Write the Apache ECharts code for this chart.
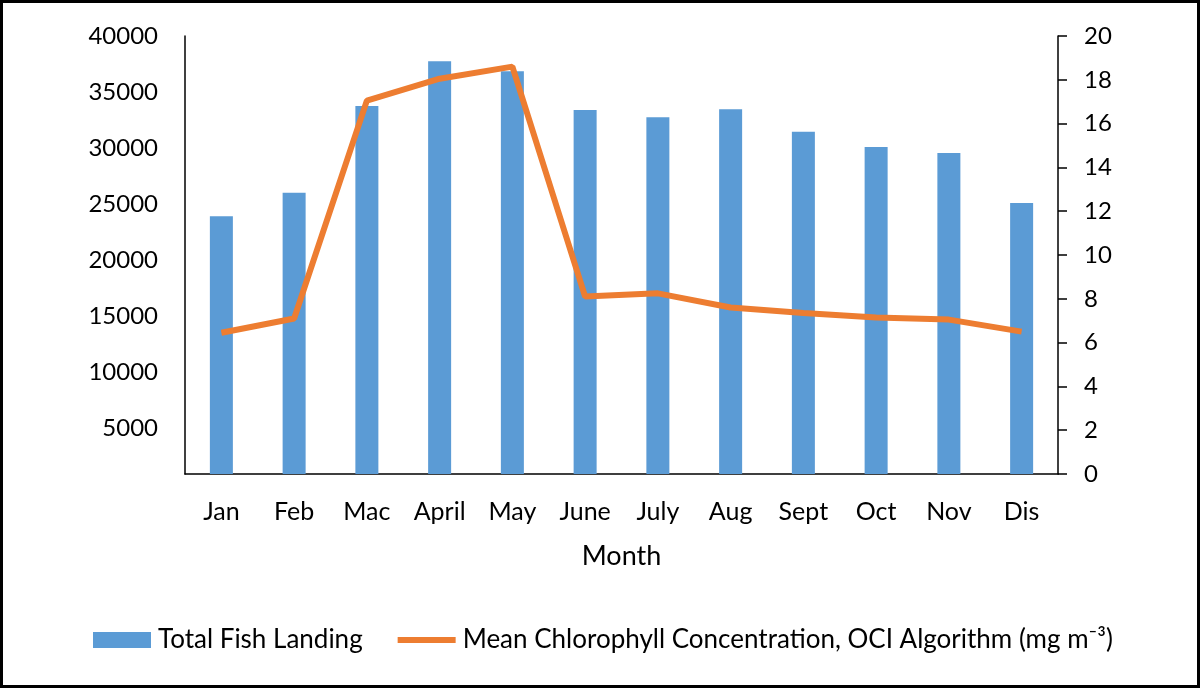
<!DOCTYPE html>
<html>
<head>
<meta charset="utf-8">
<script src="https://cdn.jsdelivr.net/npm/echarts@6/dist/echarts.min.js"></script>
<style>
  html, body { margin: 0; padding: 0; background: #fff; }
  #chart { width: 1200px; height: 688px; }
</style>
</head>
<body>
<div id="chart"></div>
<script>
// data
const months = ['Jan', 'Feb', 'Mac', 'April', 'May', 'June', 'July', 'Aug', 'Sept', 'Oct', 'Nov', 'Dis'];
const fishLanding = [23900, 26000, 33750, 37750, 36850, 33400, 32750, 33450, 31450, 30100, 29550, 25100];
const chlorophyll = [6.45, 7.1, 17.05, 18.05, 18.6, 8.1, 8.25, 7.6, 7.35, 7.15, 7.05, 6.5];
const leftTicks = [5000, 10000, 15000, 20000, 25000, 30000, 35000, 40000];

const barName = 'Total Fish Landing';
const lineName = 'Mean Chlorophyll Concentration, OCI Algorithm (mg m\u207B\u00B3)';

const font = 'Lato, "Open Sans", sans-serif';
const chart = echarts.init(document.getElementById('chart'));

chart.setOption({
    backgroundColor: '#fff',
    animation: false,
    textStyle: { fontFamily: font, color: '#000' },
    graphic: [{
        type: 'rect',
        shape: { x: 1.5, y: 1.5, width: 1197, height: 685 },
        style: { fill: 'none', stroke: '#000', lineWidth: 3 }
    }],
    grid: { left: 185, right: 142, top: 36, bottom: 214 },
    legend: {
        left: 93,
        top: 627,
        padding: 0,
        itemWidth: 58,
        itemHeight: 16,
        itemGap: 32,
        textStyle: { fontFamily: font, fontSize: 26, color: '#000', padding: [0, 0, 0, 2] },
        data: [
            { name: barName, icon: 'rect' },
            { name: lineName, itemStyle: { opacity: 0 }, lineStyle: { width: 6, color: '#ED7D31' } }
        ]
    },
    xAxis: {
        type: 'category',
        data: months,
        name: 'Month',
        nameLocation: 'middle',
        nameGap: 69,
        nameTextStyle: { fontFamily: font, fontSize: 27, color: '#000' },
        axisLine: { lineStyle: { color: '#000', width: 1.5 } },
        axisTick: { show: false },
        axisLabel: { fontFamily: font, fontSize: 25, color: '#000', margin: 25 }
    },
    yAxis: [{
        type: 'value',
        min: 900,
        max: 40000,
        position: 'left',
        splitLine: { show: false },
        axisLine: { show: true, lineStyle: { color: '#000', width: 1.5 } },
        axisTick: { show: false },
        axisLabel: {
            fontFamily: font, fontSize: 24, color: '#000', margin: 27,
            customValues: leftTicks,
            formatter: function (v) { return String(v); }
        }
    }, {
        type: 'value',
        min: 0,
        max: 20,
        interval: 2,
        position: 'right',
        splitLine: { show: false },
        axisLine: { show: true, lineStyle: { color: '#000', width: 1.5 } },
        axisTick: { show: true, inside: false, length: 9, lineStyle: { color: '#000', width: 1.5 } },
        axisLabel: { fontFamily: font, fontSize: 24, color: '#000', margin: 26 }
    }],
    series: [{
        name: barName,
        type: 'bar',
        data: fishLanding,
        barWidth: 23,
        itemStyle: { color: '#5B9BD5' }
    }, {
        name: lineName,
        type: 'line',
        yAxisIndex: 1,
        data: chlorophyll,
        showSymbol: false,
        symbol: 'none',
        lineStyle: { color: '#ED7D31', width: 6 },
        itemStyle: { color: '#ED7D31' }
    }]
});
</script>
</body>
</html>
